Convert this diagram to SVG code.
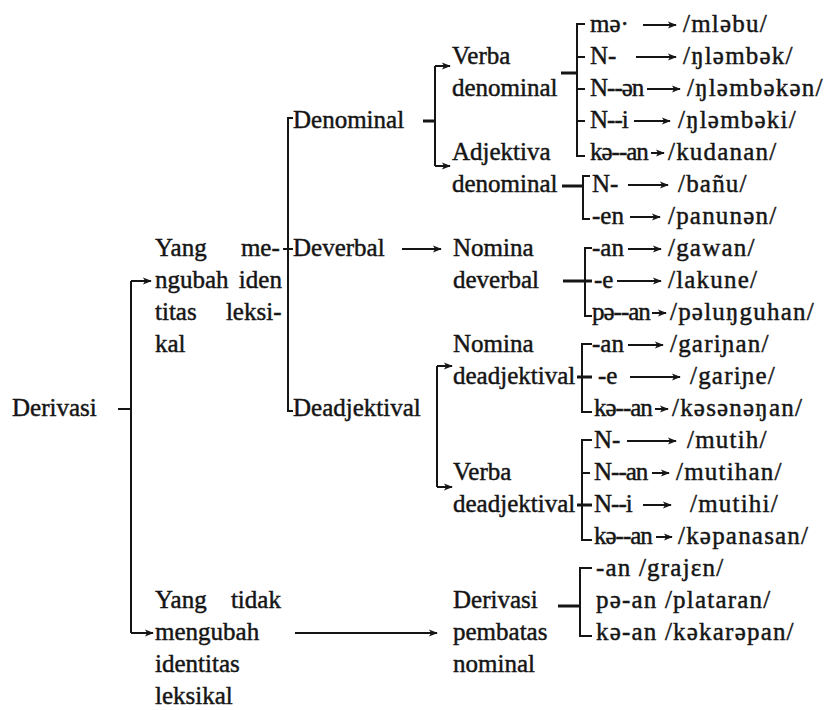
<svg xmlns="http://www.w3.org/2000/svg" width="838" height="710" viewBox="0 0 838 710">
<defs>
<style>
.t{font-family:"Liberation Serif","Times New Roman","DejaVu Serif",serif;font-size:25px;fill:#151515;stroke:#151515;stroke-width:0.45}
.af{letter-spacing:-1px}
.ipa{letter-spacing:1.2px}
.ln{stroke:#151515;stroke-width:2;fill:none}
.st{stroke:#151515;stroke-width:3;fill:none}
.ar{stroke:#151515;stroke-width:2;fill:none;marker-end:url(#ah)}
</style>
<marker id="ah" viewBox="0 0 10 10" refX="9" refY="5" markerWidth="10" markerHeight="9" markerUnits="userSpaceOnUse" orient="auto"><path d="M0,1 L10,5 L0,9 L2.5,5 z" fill="#151515"/></marker>
</defs>
<rect width="838" height="710" fill="#ffffff"/>

<g id="connectors">
<path class="ln" d="M118,409 H131"/>
<path class="ln" d="M131,281 V633"/>
<path class="ar" d="M131,281 H151"/>
<path class="ar" d="M131,633 H153"/>
<path class="ln" d="M293,118 H288 V411 H293"/>
<path class="ln" d="M283,249 H293"/>
<path class="st" d="M423,121 H435"/>
<path class="ln" d="M435,66 V166"/>
<path class="ar" d="M435,66 H450"/>
<path class="ar" d="M435,166 H450"/>
<path class="ar" d="M402,249 H441"/>
<path class="ln" d="M437,366 V487"/>
<path class="ar" d="M437,366 H452"/>
<path class="ar" d="M437,487 H452"/>
<path class="ar" d="M295,633 H437"/>
<path class="ln" d="M585,24 H577 V156 H585 M577,57 H585 M577,89 H585 M577,121 H585"/>
<path class="st" d="M561,73 H577"/>
<path class="ln" d="M590,176 H583 V219 H590"/>
<path class="st" d="M562,186 H583"/>
<path class="ln" d="M592,248 H585 V316 H592"/>
<path class="st" d="M563,281 H592"/>
<path class="ln" d="M592,344 H582 V412 H592"/>
<path class="st" d="M577,377 H592"/>
<path class="ln" d="M592,440 H582 V540 H592 M582,473 H590"/>
<path class="st" d="M577,505 H592"/>
<path class="ln" d="M592,568 H580 V636 H592"/>
<path class="st" d="M558,606 H580"/>
<path class="ar" d="M643,25 H676"/>
<path class="ar" d="M636,57 H676"/>
<path class="ar" d="M647,89 H680"/>
<path class="ar" d="M634,121 H670"/>
<path class="ar" d="M651,153 H664"/>
<path class="ar" d="M628,185 H668"/>
<path class="ar" d="M630,217 H660"/>
<path class="ar" d="M628,249 H661"/>
<path class="ar" d="M617,281 H661"/>
<path class="ar" d="M652,313 H666"/>
<path class="ar" d="M628,345 H663"/>
<path class="ar" d="M630,377 H680"/>
<path class="ar" d="M655,409 H668"/>
<path class="ar" d="M627,441 H676"/>
<path class="ar" d="M652,473 H669"/>
<path class="ar" d="M643,505 H671"/>
<path class="ar" d="M656,537 H672"/>
</g>

<g id="n-derivasi"><text class="t" x="12" y="416">Derivasi</text></g>
<g id="n-yang-mengubah">
<text class="t" x="155" y="256" word-spacing="28">Yang me-</text>
<text class="t" x="155" y="288" word-spacing="4">ngubah iden</text>
<text class="t" x="155" y="320" word-spacing="23">titas leksi-</text>
<text class="t" x="155" y="352">kal</text>
</g>
<g id="n-yang-tidak">
<text class="t" x="155" y="608" word-spacing="18">Yang tidak</text>
<text class="t" x="155" y="640">mengubah</text>
<text class="t" x="155" y="672">identitas</text>
<text class="t" x="155" y="704">leksikal</text>
</g>
<g id="n-denominal"><text class="t" x="293" y="128">Denominal</text></g>
<g id="n-deverbal"><text class="t" x="293" y="256">Deverbal</text></g>
<g id="n-deadjektival"><text class="t" x="293" y="416">Deadjektival</text></g>
<g id="n-verba-denominal"><text class="t" x="452" y="64">Verba</text><text class="t" x="452" y="96">denominal</text></g>
<g id="n-adjektiva-denominal"><text class="t" x="452" y="160">Adjektiva</text><text class="t" x="452" y="192">denominal</text></g>
<g id="n-nomina-deverbal"><text class="t" x="453" y="256">Nomina</text><text class="t" x="453" y="288">deverbal</text></g>
<g id="n-nomina-deadjektival"><text class="t" x="453" y="352">Nomina</text><text class="t" x="453" y="384">deadjektival</text></g>
<g id="n-verba-deadjektival"><text class="t" x="453" y="480">Verba</text><text class="t" x="453" y="512">deadjektival</text></g>
<g id="n-derivasi-pembatas"><text class="t" x="453" y="608">Derivasi</text><text class="t" x="453" y="640">pembatas</text><text class="t" x="453" y="672">nominal</text></g>

<g id="n-r0"><text class="t" x="590" y="32">mə·</text><text class="t ipa" x="683" y="32">/mləbu/</text></g>
<g id="n-r1"><text class="t" x="590" y="64">N-</text><text class="t ipa" x="683" y="64">/ŋləmbək/</text></g>
<g id="n-r2"><text class="t af" x="590" y="96">N--ən</text><text class="t ipa" x="687" y="96">/ŋləmbəkən/</text></g>
<g id="n-r3"><text class="t af" x="590" y="128">N--i</text><text class="t ipa" x="678" y="128">/ŋləmbəki/</text></g>
<g id="n-r4"><text class="t af" x="590" y="160">kə--an</text><text class="t ipa" x="668" y="160">/kudanan/</text></g>
<g id="n-r5"><text class="t" x="592" y="192">N-</text><text class="t ipa" x="678" y="192">/bañu/</text></g>
<g id="n-r6"><text class="t" x="592" y="224">-en</text><text class="t ipa" x="668" y="224">/panunən/</text></g>
<g id="n-r7"><text class="t" x="592" y="256">-an</text><text class="t ipa" x="668" y="256">/gawan/</text></g>
<g id="n-r8"><text class="t" x="594" y="288">-e</text><text class="t ipa" x="668" y="288">/lakune/</text></g>
<g id="n-r9"><text class="t af" x="592" y="320">pə--an</text><text class="t ipa" x="670" y="320">/pəluŋguhan/</text></g>
<g id="n-r10"><text class="t" x="592" y="352">-an</text><text class="t ipa" x="670" y="352">/gariɲan/</text></g>
<g id="n-r11"><text class="t" x="598" y="384">-e</text><text class="t ipa" x="690" y="384">/gariɲe/</text></g>
<g id="n-r12"><text class="t af" x="594" y="416">kə--an</text><text class="t ipa" x="672" y="416">/kəsənəŋan/</text></g>
<g id="n-r13"><text class="t" x="594" y="448">N-</text><text class="t ipa" x="687" y="448">/mutih/</text></g>
<g id="n-r14"><text class="t af" x="594" y="480">N--an</text><text class="t ipa" x="676" y="480">/mutihan/</text></g>
<g id="n-r15"><text class="t af" x="594" y="512">N--i</text><text class="t ipa" x="690" y="512">/mutihi/</text></g>
<g id="n-r16"><text class="t af" x="594" y="544">kə--an</text><text class="t ipa" x="678" y="544">/kəpanasan/</text></g>
<g id="n-r17"><text class="t ipa" x="596" y="576">-an /grajɛn/</text></g>
<g id="n-r18"><text class="t ipa" x="596" y="608">pə-an /plataran/</text></g>
<g id="n-r19"><text class="t ipa" x="596" y="640">kə-an /kəkarəpan/</text></g>
</svg>
